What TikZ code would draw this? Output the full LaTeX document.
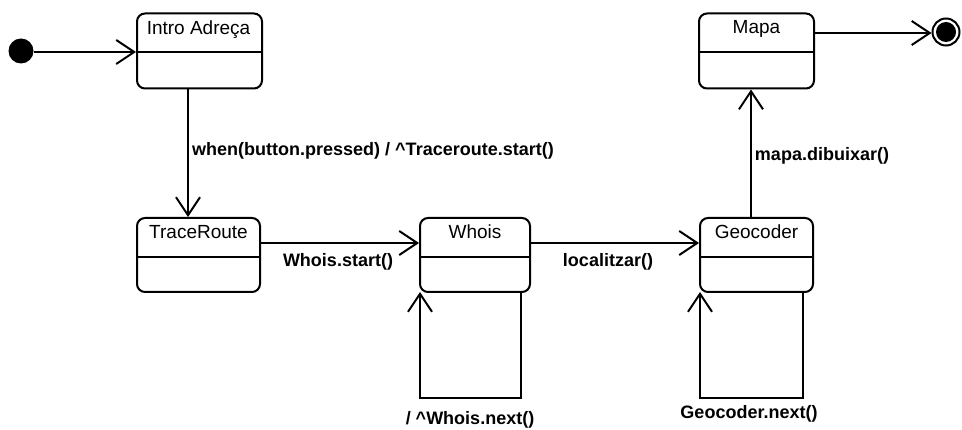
\documentclass[tikz,border=0pt]{standalone}
\usepackage{fontspec}
\setmainfont{Liberation Sans}
\usetikzlibrary{arrows.meta}
\begin{document}
\begin{tikzpicture}[x=1pt,y=-1pt,
  statebox/.style={draw=black,line width=2pt,rounded corners=8pt,inner sep=0pt},
  divider/.style={draw=black,line width=2pt},
  statename/.style={anchor=base,inner sep=0pt,font=\fontsize{19}{20}\selectfont},
  trans/.style={draw=black,line width=2.6pt,
    -{Straight Barb[length=18pt,width=24pt,line width=2pt]}},
  lbl/.style={inner sep=0pt,font=\fontsize{18}{19}\selectfont\bfseries}]
\useasboundingbox (0,0) rectangle (962,430);

% states: rounded box with a name compartment and an empty body
\node[statebox,minimum width=125pt,minimum height=75pt] (intro) at (199.5,51) {};
\node[statebox,minimum width=123pt,minimum height=74pt] (trace) at (198.5,255) {};
\node[statebox,minimum width=110pt,minimum height=74pt] (whois) at (475,255) {};
\node[statebox,minimum width=113pt,minimum height=74pt] (geo) at (756.5,255) {};
\node[statebox,minimum width=115pt,minimum height=75pt] (mapa) at (756.5,51) {};

\path[divider] (intro.west|-0,52) -- (intro.east|-0,52);
\path[divider] (trace.west|-0,257) -- (trace.east|-0,257);
\path[divider] (whois.west|-0,257) -- (whois.east|-0,257);
\path[divider] (geo.west|-0,257) -- (geo.east|-0,257);
\path[divider] (mapa.west|-0,52) -- (mapa.east|-0,52);

\node[statename] (introname) at (198.5,35) {Intro Adreça};
\node[statename] (tracename) at (198.5,239) {TraceRoute};
\node[statename] (whoisname) at (475,239) {Whois};
\node[statename] (geoname) at (756.5,239) {Geocoder};
\node[statename] (maparname) at (756.5,34) {Mapa};

% pseudo-states
\node[circle,fill=black,inner sep=0pt,minimum size=25pt] (init) at (21,51) {};
\node[circle,draw=black,line width=2pt,inner sep=0pt,minimum size=27pt] (final) at (946,32) {};
\node[circle,fill=black,inner sep=0pt,minimum size=20pt] (finaldot) at (946,32) {};

% loop corners
\coordinate (wr) at (521,292);
\coordinate (wbr) at (521,398);
\coordinate (wbl) at (420,398);
\coordinate (wtl) at (420,292);
\coordinate (gr) at (803,292);
\coordinate (gbr) at (803,398);
\coordinate (gbl) at (700,398);
\coordinate (gtl) at (700,292);

% transitions
\draw[trans] (init.east|-0,52) -- (intro.west|-0,52);
\draw[trans] (intro.south-|188,0) -- (trace.north-|188,0);
\draw[trans] (trace.east|-0,243) -- (whois.west|-0,243);
\draw[trans] (whois.east|-0,243) -- (geo.west|-0,243);
\draw[trans] (geo.north-|751,0) -- (mapa.south-|751,0);
\draw[trans] (mapa.east|-0,33) -- (final.west|-0,33);
\draw[trans] (wr) -- (wbr) -- (wbl) -- (wtl);
\draw[trans] (gr) -- (gbr) -- (gbl) -- (gtl);

% transition labels
\node[lbl] (l1) at (373,151) {when(button.pressed) / \^{}Traceroute.start()};
\node[lbl] (l2) at (338,262) {Whois.start()};
\node[lbl] (l3) at (608,262) {localitzar()};
\node[lbl] (l4) at (822,156) {mapa.dibuixar()};
\node[lbl] (l5) at (470,420) {/ \^{}Whois.next()};
\node[lbl] (l6) at (749,414) {Geocoder.next()};
\end{tikzpicture}
\end{document}
